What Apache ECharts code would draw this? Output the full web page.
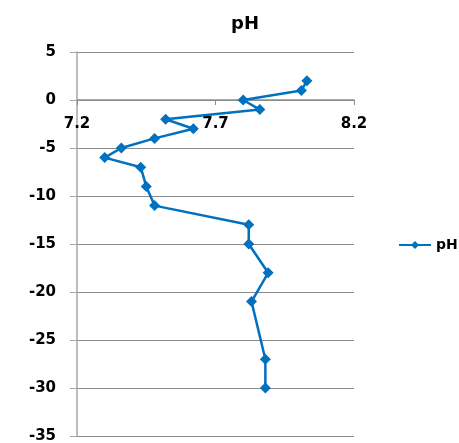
<!DOCTYPE html>
<html>
<head>
<meta charset="utf-8">
<script src="https://cdn.jsdelivr.net/npm/echarts@6/dist/echarts.min.js"></script>
<style>
  html, body { margin: 0; padding: 0; background: #fff; }
  #chart { width: 459px; height: 443px; }
</style>
</head>
<body>
<div id="chart"></div>
<script>
// pH profile by depth
const depths = [2, 1, 0, -1, -2, -3, -4, -5, -6, -7, -9, -11, -13, -15, -18, -21, -27, -30];
const phValues = [8.03, 8.01, 7.80, 7.86, 7.52, 7.62, 7.48, 7.36, 7.30, 7.43, 7.45, 7.48, 7.82, 7.82, 7.89, 7.83, 7.88, 7.88];
const xTicks = [7.2, 7.7, 8.2];
const yMin = -35, yMax = 5;

const gridTop = 52, gridBottom = 7, chartH = 443;
const plotH = chartH - gridTop - gridBottom;
// distance from the bottom edge of the plot up to depth 0, where the x labels sit
const zeroLift = plotH * (0 - yMin) / (yMax - yMin);

const chart = echarts.init(document.getElementById('chart'));
const font = 'Verdana, "DejaVu Sans", sans-serif';
const xLabelFmt = v => xTicks.includes(Math.round(v * 10) / 10) ? v.toFixed(1) : '';

chart.setOption({
  animation: false,
  title: {
    text: 'pH',
    left: 240,
    top: 10,
    textAlign: 'center',
    textStyle: { fontFamily: font, fontSize: 18, fontWeight: 'bold', color: '#000' }
  },
  legend: {
    left: 393,
    top: 233,
    itemWidth: 32,
    itemHeight: 10,
    itemGap: 4,
    textStyle: { fontFamily: font, fontSize: 14, fontWeight: 'bold', color: '#000' },
    data: ['pH']
  },
  grid: { left: 77, right: 105, top: gridTop, bottom: gridBottom, containLabel: false, outerBoundsMode: 'none' },
  xAxis: [{
    type: 'value',
    min: 7.2,
    max: 8.2,
    interval: 0.5,
    axisLine: { onZero: true, lineStyle: { color: '#8c8c8c', width: 1.5 } },
    axisTick: { show: true, inside: false, length: 5, lineStyle: { color: '#8c8c8c' } },
    axisLabel: { show: false },
    splitLine: { show: false }
  }, {
    // label-only axis lifted up to the depth-0 line
    type: 'value',
    position: 'bottom',
    offset: -zeroLift,
    min: 7.2,
    max: 8.2,
    interval: 0.5,
    axisLine: { show: false, onZero: false },
    axisTick: { show: false },
    axisLabel: {
      margin: 17,
      fontFamily: font, fontSize: 15, fontWeight: 'bold', color: '#000',
      formatter: xLabelFmt
    },
    splitLine: { show: false }
  }],
  yAxis: {
    type: 'value',
    min: yMin,
    max: yMax,
    interval: 5,
    axisLine: { show: true, onZero: false, lineStyle: { color: '#a6a6a6', width: 1.5 } },
    axisTick: { show: true, length: 7, lineStyle: { color: '#a6a6a6' } },
    axisLabel: { margin: 21, fontFamily: font, fontSize: 15, fontWeight: 'bold', color: '#000' },
    splitLine: { show: true, lineStyle: { color: '#8c8c8c', width: 1 } }
  },
  series: [{
    name: 'pH',
    type: 'line',
    xAxisIndex: 0,
    data: phValues.map((v, i) => [v, depths[i]]),
    symbol: 'diamond',
    symbolSize: 11,
    lineStyle: { color: '#0070C0', width: 2.5 },
    itemStyle: { color: '#0070C0' }
  }]
});
</script>
</body>
</html>
